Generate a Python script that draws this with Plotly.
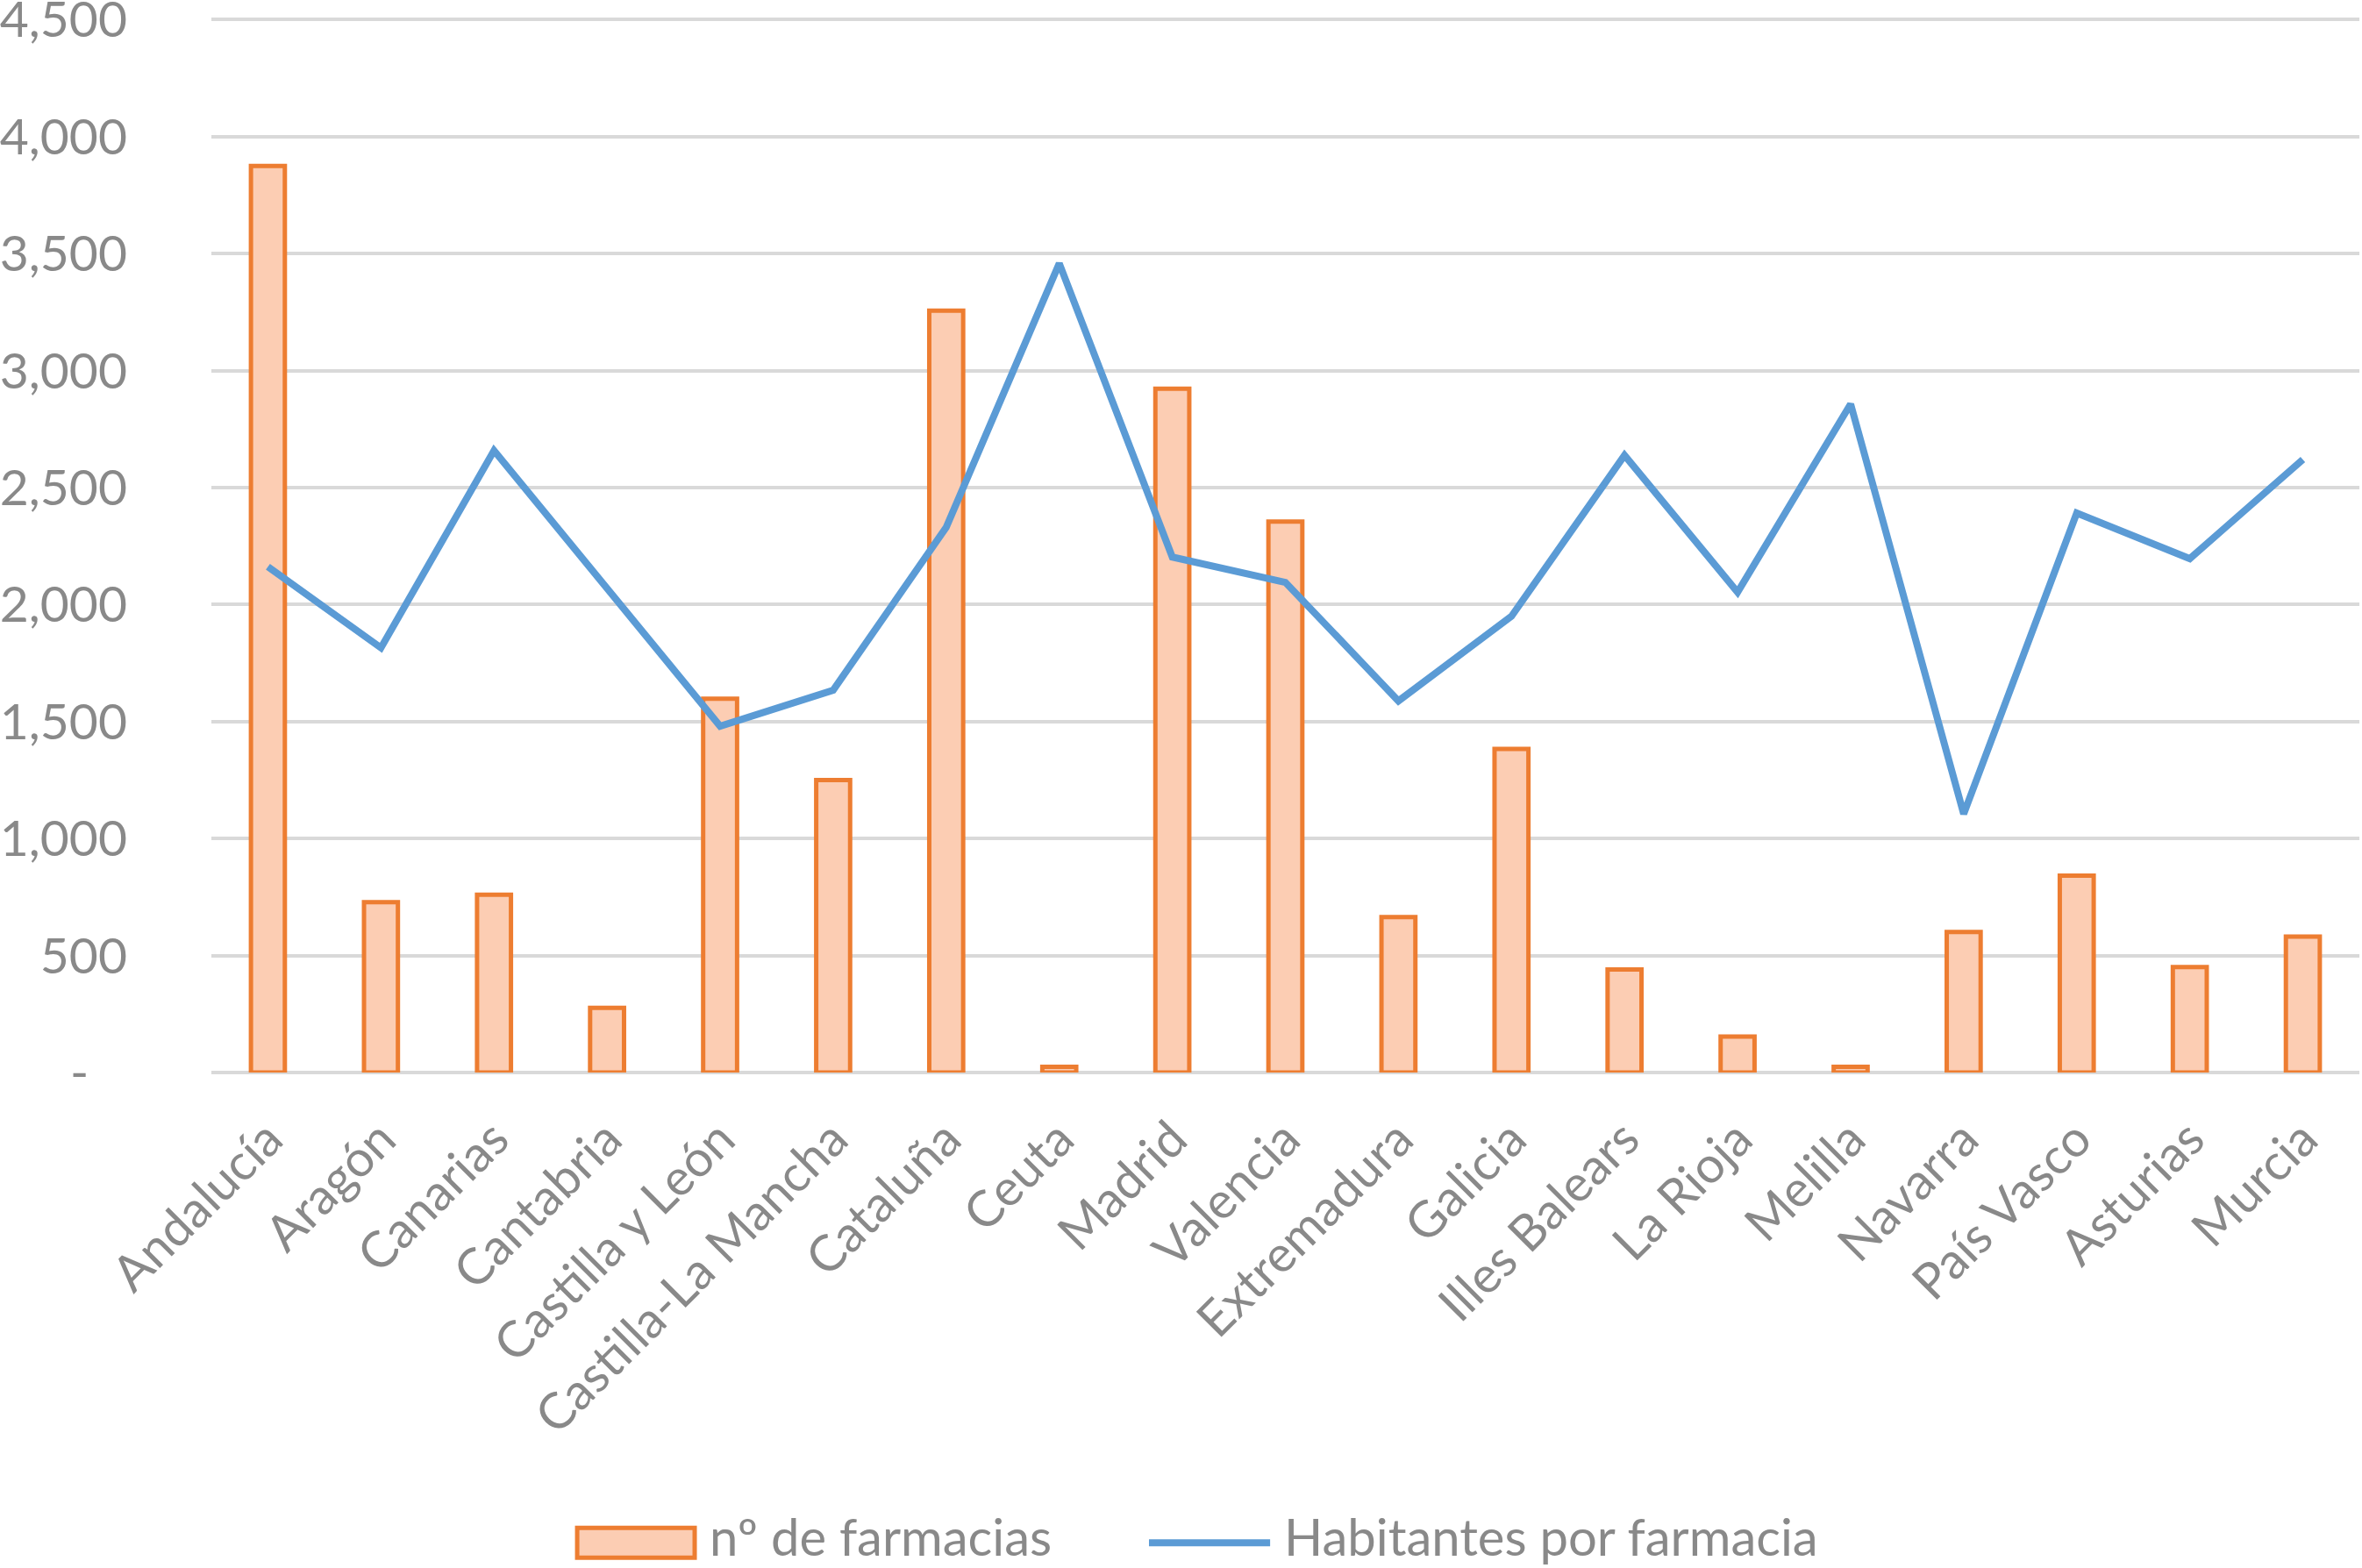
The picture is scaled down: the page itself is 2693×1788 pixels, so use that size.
import plotly.graph_objects as go

regions = ["Andalucía", "Aragón", "Canarias", "Cantabria", "Castilla y León",
           "Castilla-La Mancha", "Cataluña", "Ceuta", "Madrid", "Valencia",
           "Extremadura", "Galicia", "Illes Balears", "La Rioja", "Melilla",
           "Navarra", "País Vasco", "Asturias", "Murcia"]

n_farmacias = [3874, 728, 760, 276, 1598, 1250, 3256, 24, 2922, 2355,
               664, 1383, 440, 154, 24, 601, 841, 451, 581]

habitantes_por_farmacia = [2162, 1815, 2658, 2072, 1480, 1634, 2330, 3458, 2203, 2095,
                           1588, 1950, 2638, 2053, 2857, 1105, 2391, 2196, 2620]

y_tickvals = [0, 500, 1000, 1500, 2000, 2500, 3000, 3500, 4000, 4500]
y_ticktext = ["-\u00a0\u00a0\u00a0", "500", "1,000", "1,500", "2,000", "2,500",
              "3,000", "3,500", "4,000", "4,500"]

series_names = ["nº de farmacias", "Habitantes por farmacia"]

FONT = "Lato, 'Open Sans', sans-serif"
GRAY = "#898989"
BAR_FILL = "#FCCDB3"
BAR_EDGE = "#ED7D31"
LINE_COL = "#5B9BD5"

fig = go.Figure()
fig.add_trace(go.Bar(
    x=regions, y=n_farmacias, name=series_names[0],
    width=0.3, showlegend=False,
    marker=dict(color=BAR_FILL, line=dict(color=BAR_EDGE, width=5)),
))
fig.add_trace(go.Scatter(
    x=regions, y=habitantes_por_farmacia, name=series_names[1],
    mode="lines", showlegend=False, line=dict(color=LINE_COL, width=8),
))

# legend drawn below the plot (paper coordinates)
leg_y = -0.4446
txt_y = -0.4385
fig.add_shape(type="rect", xref="paper", yref="paper",
              x0=0.1703, x1=0.2250, y0=-0.4588, y1=-0.4305,
              fillcolor=BAR_FILL, line=dict(color=BAR_EDGE, width=5))
fig.add_shape(type="line", xref="paper", yref="paper",
              x0=0.4365, x1=0.4929, y0=leg_y, y1=leg_y,
              line=dict(color=LINE_COL, width=8))
fig.add_annotation(xref="paper", yref="paper", x=0.2311, y=txt_y,
                   xanchor="left", yanchor="middle", showarrow=False,
                   text=series_names[0], font=dict(family=FONT, size=58, color=GRAY))
fig.add_annotation(xref="paper", yref="paper", x=0.4986, y=txt_y,
                   xanchor="left", yanchor="middle", showarrow=False,
                   text=series_names[1], font=dict(family=FONT, size=58, color=GRAY))

fig.update_layout(
    width=2693, height=1788,
    margin=dict(l=241, r=3, t=17, b=565),
    paper_bgcolor="white", plot_bgcolor="white",
    font=dict(family=FONT, size=56, color=GRAY),
    showlegend=False,
    bargap=0.7,
)
fig.update_xaxes(
    type="category", tickangle=-45, showgrid=False, showline=False, zeroline=False,
    tickfont=dict(family=FONT, size=57, color=GRAY), ticks="",
    ticklabelstandoff=30, automargin=False,
)
fig.update_yaxes(
    range=[0, 4520], tickvals=y_tickvals, ticktext=y_ticktext,
    showgrid=True, gridcolor="#D9D9D9", gridwidth=4,
    zeroline=True, zerolinecolor="#D9D9D9", zerolinewidth=4,
    showline=False, ticks="", ticklabelstandoff=95, automargin=False,
    ticklabeloverflow="allow",
    tickfont=dict(family=FONT, size=57, color=GRAY),
)

fig.write_html("out.html")
